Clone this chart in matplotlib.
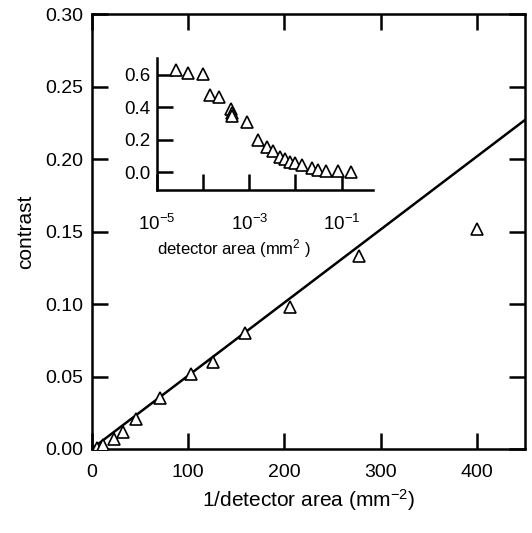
import matplotlib
matplotlib.use("Agg")
import matplotlib.pyplot as plt
import numpy as np

plt.rcParams['font.family'] = ['Liberation Sans', 'DejaVu Sans']
plt.rcParams['mathtext.fontset'] = 'custom'
plt.rcParams['mathtext.rm'] = 'Liberation Sans'
plt.rcParams['mathtext.it'] = 'Liberation Sans'
plt.rcParams['mathtext.default'] = 'regular'

# main panel: contrast vs 1/detector area
inv_area = [6, 12, 23, 33, 46, 71, 103, 126, 159, 206, 278, 400]
contrast = [0.001, 0.003, 0.007, 0.012, 0.021, 0.035, 0.052, 0.060, 0.080, 0.098, 0.133, 0.152]

# linear fit drawn over the full x range
fit_x = [0, 450]
fit_y = [0, 0.227]

# inset: contrast vs detector area (log x)
area = [2.5e-5, 4.7e-5, 9.7e-5, 1.4e-4, 2.2e-4, 4.0e-4, 4.1e-4, 4.1e-4, 8.7e-4,
        1.55e-3, 2.37e-3, 3.3e-3, 4.6e-3, 5.9e-3, 7.6e-3, 9.7e-3, 0.0136, 0.0224,
        0.031, 0.047, 0.084, 0.164]
contrast_in = [0.627, 0.607, 0.603, 0.477, 0.46, 0.389, 0.364, 0.343, 0.306,
               0.200, 0.152, 0.127, 0.096, 0.080, 0.065, 0.056, 0.041, 0.025,
               0.014, 0.008, 0.004, 0.0]

fig = plt.figure(figsize=(5.32, 5.33), dpi=100)
ax = fig.add_axes([0.172, 0.1576, 0.815, 0.8161])

ax.plot(fit_x, fit_y, color='black', lw=1.8, zorder=2)
ax.plot(inv_area, contrast, linestyle='none', marker='^', ms=9, mfc='white',
        mec='black', mew=1.2, zorder=3)

ax.set_xlim(0, 450)
ax.set_ylim(0, 0.30)
ax.set_xticks([0, 100, 200, 300, 400])
ax.set_yticks(np.arange(0, 0.301, 0.05))
ax.set_yticklabels(['%.2f' % v for v in np.arange(0, 0.301, 0.05)])
for s in ax.spines.values():
    s.set_linewidth(1.8)
ax.tick_params(direction='in', length=11.5, width=1.8, top=True, right=True,
               labelsize=14)
ax.tick_params(axis='x', pad=11)
ax.tick_params(axis='y', pad=6)
ax.set_xlabel('1/detector area (mm$^{-2}$)', fontsize=15, labelpad=4)
ax.set_ylabel('contrast', fontsize=15, labelpad=7)

# inset
ax_in = fig.add_axes([0.2955, 0.6435, 0.4062, 0.2471])
ax_in.plot(area, contrast_in, linestyle='none', marker='^', ms=9, mfc='white',
           mec='black', mew=1.2, clip_on=False)
ax_in.set_xscale('log')
ax_in.set_xlim(1e-5, 0.49)
ax_in.set_ylim(-0.11, 0.70)
ax_in.set_xticks([1e-5, 1e-4, 1e-3, 1e-2, 1e-1])
ax_in.set_xticklabels(['$10^{-5}$', '', '$10^{-3}$', '', '$10^{-1}$'])
ax_in.xaxis.set_minor_locator(matplotlib.ticker.NullLocator())
ax_in.set_yticks([0.0, 0.2, 0.4, 0.6])
ax_in.set_yticklabels(['0.0', '0.2', '0.4', '0.6'])
ax_in.spines['top'].set_visible(False)
ax_in.spines['right'].set_visible(False)
for s in ['left', 'bottom']:
    ax_in.spines[s].set_linewidth(1.8)
ax_in.tick_params(direction='in', length=11.5, width=1.8, labelsize=13.5)
ax_in.tick_params(axis='x', pad=17)
ax_in.tick_params(axis='y', pad=5)
ax_in.set_xlabel('detector area (mm$^{2}$ )', fontsize=12)
ax_in.xaxis.set_label_coords(0.355, -0.36)

fig.savefig('out.png', dpi=100)
